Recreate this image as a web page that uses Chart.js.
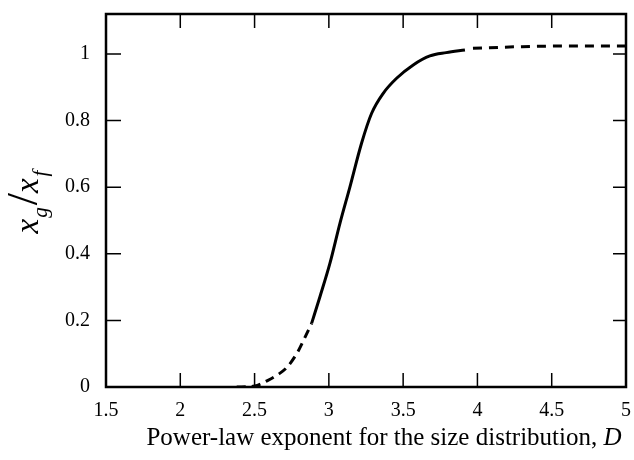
<!DOCTYPE html>
<html>
<head>
<meta charset="utf-8">
<script src="https://cdn.jsdelivr.net/npm/chart.js@4"></script>
<style>
  html, body { margin: 0; padding: 0; background: #fff; }
  #wrap { width: 634px; height: 460px; position: relative; }
</style>
</head>
<body>
<div id="wrap"><canvas id="chart" width="634" height="460"></canvas></div>
<script>
// данные кривой
const lowD = [2.38, 2.5, 2.59, 2.66, 2.72, 2.79, 2.84, 2.884];
const lowV = [0.0, 0.003, 0.02, 0.038, 0.06, 0.105, 0.15, 0.191];

const midD = [2.884, 2.94, 3.007, 3.075, 3.142, 3.22, 3.288, 3.366, 3.456, 3.568, 3.68, 3.79, 3.916];
const midV = [0.191, 0.271, 0.371, 0.492, 0.601, 0.732, 0.822, 0.882, 0.927, 0.967, 0.994, 1.004, 1.012];

const hiD = [3.97, 4.3, 4.7, 5.0];
const hiV = [1.017, 1.022, 1.024, 1.024];

// подписи осей
const xTicks = [1.5, 2, 2.5, 3, 3.5, 4, 4.5, 5];
const yTicks = [0, 0.2, 0.4, 0.6, 0.8, 1];

const SERIF = "'Liberation Serif', 'DejaVu Serif', serif";

function toPoints(xs, ys) {
	return xs.map((x, i) => ({ x: x, y: ys[i] }));
}

function lineSet(xs, ys, dash) {
	return {
		data: toPoints(xs, ys),
		showLine: true,
		borderColor: "#000",
		borderWidth: 3,
		borderDash: dash,
		pointRadius: 0,
		cubicInterpolationMode: "monotone",
		fill: false,
	};
}

// рамка, внутренние засечки и подписи осей
const framePlugin = {
	id: "frame",
	afterDraw(chart) {
		const c = chart.ctx;
		const a = chart.chartArea;
		const xs = chart.scales.x;
		const ys = chart.scales.y;

		c.save();
		c.strokeStyle = "#000";
		c.lineWidth = 2.5;
		c.strokeRect(a.left, a.top, a.right - a.left, a.bottom - a.top);

		c.lineWidth = 1.5;
		c.beginPath();
		xTicks.slice(1, -1).forEach((v) => {
			const px = xs.getPixelForValue(v);
			c.moveTo(px, a.bottom);
			c.lineTo(px, a.bottom - 14);
			c.moveTo(px, a.top);
			c.lineTo(px, a.top + 14);
		});
		yTicks.slice(1).forEach((v) => {
			const py = ys.getPixelForValue(v);
			c.moveTo(a.left, py);
			c.lineTo(a.left + 15, py);
			c.moveTo(a.right, py);
			c.lineTo(a.right - 13, py);
		});
		c.stroke();

		// подпись оси X, D курсивом
		c.fillStyle = "#000";
		c.textBaseline = "alphabetic";
		const plain = "Power-law exponent for the size distribution, ";
		c.font = "25px " + SERIF;
		const w1 = c.measureText(plain).width;
		c.font = "italic 25px " + SERIF;
		const w2 = c.measureText("D").width;
		const x0 = 384 - (w1 + w2) / 2;
		c.font = "25px " + SERIF;
		c.fillText(plain, x0, 445);
		c.font = "italic 25px " + SERIF;
		c.fillText("D", x0 + w1, 445);

		// подпись оси Y: x_g / x_f
		const parts = [
			{ t: "x", f: "italic 33px " + SERIF, dy: 0, gap: 0 },
			{ t: "g", f: "italic 21px " + SERIF, dy: 9, gap: 1 },
			{ t: "/", f: "44px " + SERIF, dy: -1, gap: 2 },
			{ t: "x", f: "italic 33px " + SERIF, dy: 0, gap: 0 },
			{ t: "f", f: "italic 21px " + SERIF, dy: 9, gap: 2 },
		];
		let total = 0;
		parts.forEach((p) => {
			c.font = p.f;
			p.w = c.measureText(p.t).width + p.gap;
			total += p.w;
		});
		c.translate(38, 202);
		c.rotate(-Math.PI / 2);
		let cx = -total / 2;
		parts.forEach((p) => {
			c.font = p.f;
			c.fillText(p.t, cx + p.gap, p.dy);
			cx += p.w;
		});
		c.restore();
	},
};

const config = {
	type: "scatter",
	data: {
		datasets: [
			lineSet(lowD, lowV, [9, 6]),
			lineSet(midD, midV, []),
			lineSet(hiD, hiV, [9, 7]),
		],
	},
	options: {
		responsive: false,
		animation: false,
		layout: {
			padding: { top: 14, right: 8, left: 0, bottom: 0 },
		},
		plugins: {
			legend: { display: false },
			tooltip: { enabled: false },
		},
		scales: {
			x: {
				type: "linear",
				min: 1.5,
				max: 5,
				grid: { display: false, drawTicks: false },
				border: { display: false },
				afterBuildTicks: (s) => {
					s.ticks = xTicks.map((v) => ({ value: v }));
				},
				afterFit: (s) => {
					s.height = 73;
					s.paddingLeft = 0;
					s.paddingRight = 0;
				},
				ticks: {
					padding: 12,
					color: "#000",
					maxRotation: 0,
					font: { family: SERIF, size: 20 },
					callback: (v) => String(v),
				},
			},
			y: {
				type: "linear",
				min: 0,
				max: 1.12,
				grid: { display: false, drawTicks: false },
				border: { display: false },
				afterBuildTicks: (s) => {
					s.ticks = yTicks.map((v) => ({ value: v }));
				},
				afterFit: (s) => {
					s.width = 106;
					s.paddingTop = 0;
					s.paddingBottom = 0;
				},
				ticks: {
					padding: 16,
					color: "#000",
					font: { family: SERIF, size: 20 },
					callback: (v) => String(v),
				},
			},
		},
	},
	plugins: [framePlugin],
};

new Chart(document.getElementById("chart"), config);
</script>
</body>
</html>
